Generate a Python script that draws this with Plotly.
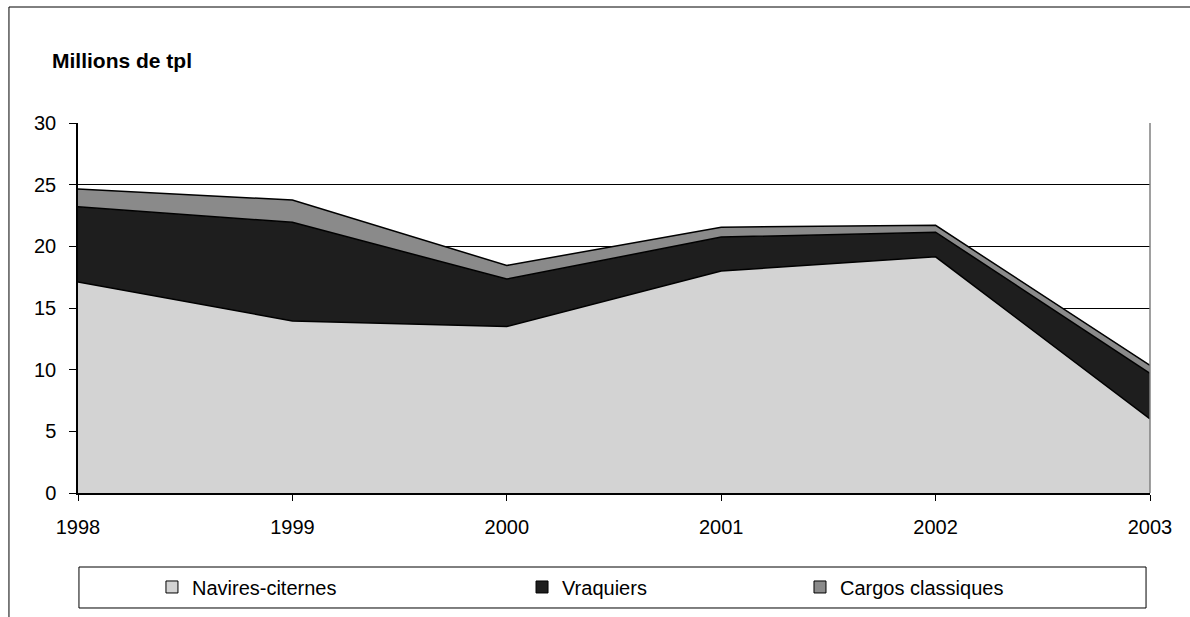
import plotly.graph_objects as go

# Données : tonnage (millions de tpl) par type de navire
annees = [1998, 1999, 2000, 2001, 2002, 2003]
navires_citernes = [17.1, 13.95, 13.5, 18.0, 19.15, 6.0]
vraquiers = [6.1, 8.0, 3.85, 2.75, 2.0, 3.7]
cargos_classiques = [1.45, 1.8, 1.1, 0.8, 0.55, 0.65]

series = [
    ("Navires-citernes", navires_citernes, "#D3D3D3", "legend", 0.069),
    ("Vraquiers", vraquiers, "#1E1E1E", "legend2", 0.4142),
    ("Cargos classiques", cargos_classiques, "#8A8A8A", "legend3", 0.6735),
]

FONT = "Liberation Sans, Arial, sans-serif"

fig = go.Figure()

# Aires empilées
for nom, vals, couleur, _, _ in series:
    fig.add_trace(go.Scatter(
        x=annees, y=vals, name=nom, mode="lines",
        stackgroup="tonnage", fillcolor=couleur,
        line=dict(color="black", width=1.5),
        showlegend=False, hoverinfo="x+y+name",
    ))

# Entrées de légende (carrés encadrés)
for nom, vals, couleur, leg, _ in series:
    fig.add_trace(go.Scatter(
        x=[None], y=[None], name=nom, mode="markers",
        marker=dict(symbol="square", size=12, color=couleur,
                    line=dict(color="black", width=1)),
        legend=leg, showlegend=True,
    ))

legend_common = dict(
    orientation="h", yanchor="middle", xanchor="left", y=-0.254,
    bgcolor="rgba(0,0,0,0)", borderwidth=0,
    font=dict(family=FONT, size=20, color="black"),
    itemwidth=30,
)
layout_legends = {}
for nom, vals, couleur, leg, xpos in series:
    layout_legends[leg] = dict(legend_common, x=xpos)

fig.update_layout(
    width=1190, height=617,
    margin=dict(l=78, r=40, t=123, b=124, autoexpand=False),
    paper_bgcolor="white", plot_bgcolor="white",
    font=dict(family=FONT, size=20, color="black"),
    showlegend=True,
    **layout_legends,
    xaxis=dict(
        range=[1998, 2003], tickvals=annees, ticktext=[str(a) for a in annees],
        showgrid=False, zeroline=False,
        showline=True, linecolor="black", linewidth=1.5,
        ticks="outside", ticklen=6, tickcolor="black", tickwidth=1,
        ticklabelstandoff=9,
        tickfont=dict(family=FONT, size=20, color="black"),
    ),
    yaxis=dict(
        range=[0, 30], dtick=5, tick0=0,
        showgrid=True, gridcolor="black", gridwidth=1,
        zeroline=False,
        showline=True, linecolor="black", linewidth=1.5,
        ticks="outside", ticklen=7, tickcolor="black", tickwidth=1,
        ticklabelstandoff=9,
        tickfont=dict(family=FONT, size=20, color="black"),
    ),
    annotations=[
        dict(text="<b>Millions de tpl</b>", xref="paper", yref="paper",
             x=-0.0261, y=1.1676, xanchor="left", yanchor="middle",
             showarrow=False, font=dict(family=FONT, size=21, color="black")),
    ],
    shapes=[
        # cadre extérieur du graphique
        dict(type="rect", xref="paper", yref="paper",
             x0=-0.0644, x1=1.06, y0=-0.45, y1=1.3135,
             line=dict(color="black", width=1), fillcolor="rgba(0,0,0,0)",
             layer="below"),
        # bord droit de la zone de tracé
        dict(type="line", xref="paper", yref="paper",
             x0=1, x1=1, y0=0, y1=1, line=dict(color="#808080", width=1.5)),
        # cadre de la légende
        dict(type="rect", xref="paper", yref="paper",
             x0=0.0009, x1=0.9963, y0=-0.3108, y1=-0.2,
             line=dict(color="black", width=1), fillcolor="rgba(0,0,0,0)"),
    ],
)

fig.write_html("out.html")
